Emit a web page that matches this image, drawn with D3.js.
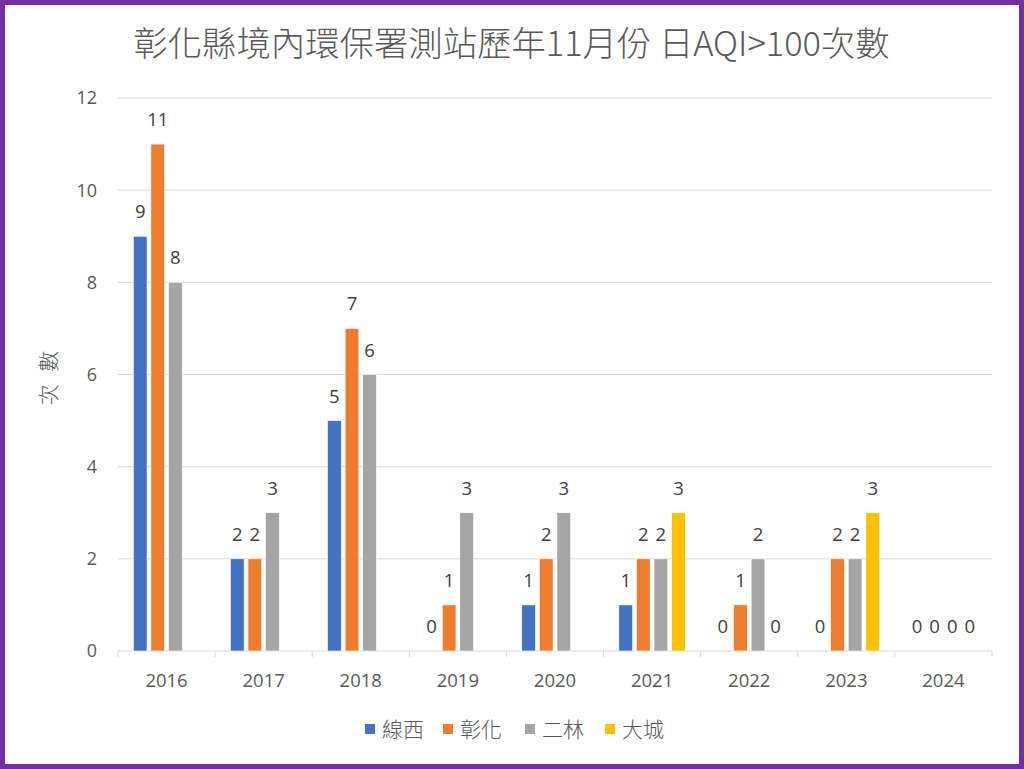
<!DOCTYPE html>
<html><head><meta charset="utf-8">
<script src="https://cdn.jsdelivr.net/npm/d3@7"></script>
<style>
html,body{margin:0;padding:0;background:#fff;}
svg{display:block;}
text{font-family:"Noto Sans CJK TC","Open Sans",sans-serif;}
text.num{font-family:"Open Sans","Noto Sans CJK TC",sans-serif;}
</style></head>
<body>
<script>
const years = ["2016","2017","2018","2019","2020","2021","2022","2023","2024"];
const seriesNames = ["線西","彰化","二林","大城"];
const xianxi   = [9,2,5,0,1,1,0,0,0];
const changhua = [11,2,7,1,2,2,1,2,0];
const erlin    = [8,3,6,3,3,2,2,2,0];
const dacheng  = [null,null,null,null,null,3,0,3,0];
const colors = ["#4472C4","#ED7D31","#A5A5A5","#FFC000"];
const yTicks = [0,2,4,6,8,10,12];
const titleText = "彰化縣境內環保署測站歷年11月份 日AQI>100次數";
const yTitle = "次 數";

const W=1024,H=769;
const svg=d3.select("body").append("svg").attr("width",W).attr("height",H);
svg.append("rect").attr("x",2.5).attr("y",2.5).attr("width",W-5).attr("height",H-5)
  .attr("fill","#fff").attr("stroke","#7030A0").attr("stroke-width",5);

const L=118,R=992,T=98,B=651;
const x0=d3.scaleBand().domain(years).range([L,R]).padding(0);
const x1=d3.scaleBand().domain(seriesNames).range([0,x0.bandwidth()]).paddingInner(0.22).paddingOuter(0.87);
const y=d3.scaleLinear().domain([0,12]).range([B,T]);

// gridlines
svg.append("g").selectAll("line").data(yTicks.filter(d=>d>0)).join("line")
  .attr("x1",L).attr("x2",R).attr("y1",d=>y(d)).attr("y2",d=>y(d))
  .attr("stroke","#D9D9D9").attr("stroke-width",1);

// y tick labels
svg.append("g").selectAll("text").data(yTicks).join("text").attr("class","num")
  .attr("x",97).attr("y",d=>y(d)).attr("dy","0.36em").attr("text-anchor","end")
  .attr("font-size",18).attr("fill","#595959").text(d=>d);

// x axis
const xAxisG=svg.append("g").attr("transform",`translate(0,${B})`);
xAxisG.append("line").attr("x1",L).attr("x2",R).attr("y1",0).attr("y2",0).attr("stroke","#D9D9D9").attr("stroke-width",1);
const bounds=years.map(d=>x0(d)).concat([R]);
xAxisG.selectAll("line.tk").data(bounds).join("line").attr("class","tk")
  .attr("x1",d=>d).attr("x2",d=>d).attr("y1",0).attr("y2",6).attr("stroke","#D9D9D9");
xAxisG.selectAll("text").data(years).join("text").attr("class","num")
  .attr("x",d=>x0(d)+x0.bandwidth()/2).attr("y",36).attr("text-anchor","middle")
  .attr("font-size",18.5).attr("fill","#595959").text(d=>d);

// bars
const allSeries=[xianxi,changhua,erlin,dacheng];
const flat=[];
years.forEach((yr,i)=>seriesNames.forEach((s,j)=>{
  const v=allSeries[j][i];
  if(v!==null) flat.push({yr,s,v,c:colors[j]});
}));
svg.append("g").selectAll("rect").data(flat).join("rect")
  .attr("x",d=>x0(d.yr)+x1(d.s)).attr("width",x1.bandwidth())
  .attr("y",d=>y(d.v)).attr("height",d=>B-y(d.v))
  .attr("fill",d=>d.c).attr("stroke","#fff").attr("stroke-width",0.6);
svg.append("g").selectAll("text").data(flat).join("text").attr("class","num")
  .attr("x",d=>x0(d.yr)+x1(d.s)+x1.bandwidth()/2).attr("y",d=>y(d.v)-18)
  .attr("text-anchor","middle").attr("font-size",18.5).attr("fill","#404040").text(d=>d.v);

// title
const t=svg.append("text").attr("x",511.5).attr("y",56).attr("text-anchor","middle")
  .attr("font-size",32).attr("font-weight",300).attr("fill","#595959").text(titleText);
const tw=t.node().getComputedTextLength();
t.attr("font-size",32*757/tw);

// y title
svg.append("text").attr("transform","translate(56,376) rotate(-90)").attr("text-anchor","middle")
  .attr("font-size",21).attr("font-weight",300).attr("letter-spacing",4).attr("fill","#595959").text(yTitle);

// legend
const legX=[365,443,525,605];
const lg=svg.append("g");
seriesNames.forEach((s,j)=>{
  lg.append("rect").attr("x",legX[j]).attr("y",724).attr("width",10).attr("height",10).attr("fill",colors[j]);
  lg.append("text").attr("x",legX[j]+17).attr("y",729).attr("dy","0.36em").attr("font-size",21).attr("font-weight",300).attr("fill","#595959").text(s);
});
</script>
</body></html>
